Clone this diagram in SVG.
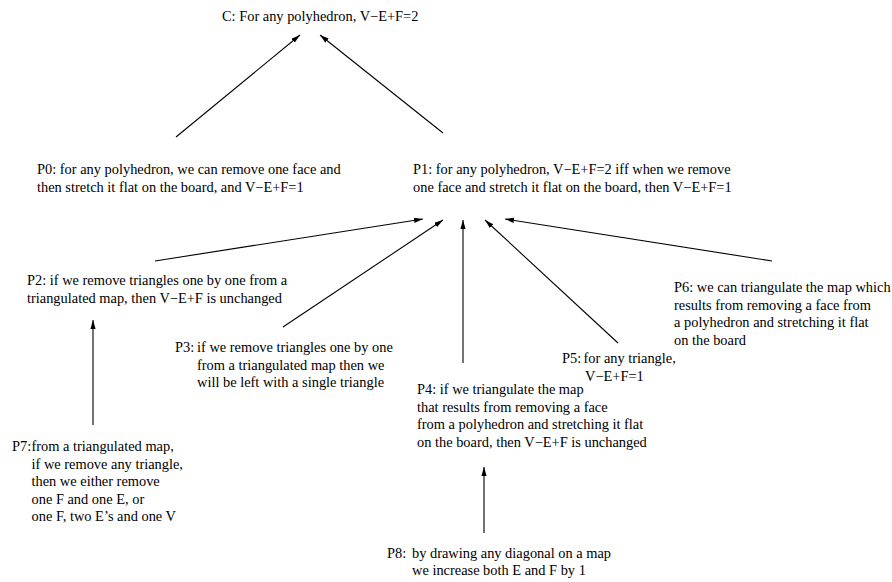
<svg xmlns="http://www.w3.org/2000/svg" width="892" height="582" viewBox="0 0 892 582">
<defs>
<marker id="ah" markerUnits="userSpaceOnUse" markerWidth="10" markerHeight="6" refX="9" refY="2.6" orient="auto">
<path d="M0,0 L9,2.6 L0,5.2 z" fill="#000"/>
</marker>
<style>
text{font-family:"Liberation Serif","Times New Roman",serif;font-size:14.4px;fill:#000}
.c line{stroke:#000;stroke-width:1.1;marker-end:url(#ah)}
</style>
</defs>
<rect width="892" height="582" fill="#fff"/>
<g id="connectors" class="c">
<line x1="176" y1="137" x2="300" y2="35"/>
<line x1="443" y1="133" x2="320" y2="35"/>
<line x1="155" y1="261" x2="423" y2="219"/>
<line x1="283" y1="327" x2="443" y2="220"/>
<line x1="463" y1="363" x2="463" y2="220"/>
<line x1="618" y1="343" x2="485" y2="220"/>
<line x1="772" y1="261" x2="505" y2="219"/>
<line x1="93" y1="425" x2="93" y2="320"/>
<line x1="484" y1="533" x2="484" y2="467"/>
</g>
<g id="C"><text x="222" y="21">C: For any polyhedron, V−E+F=2</text></g>
<g id="P0"><text x="37" y="174">P0: for any polyhedron, we can remove one face and</text><text x="37" y="191.5">then stretch it flat on the board, and V−E+F=1</text></g>
<g id="P1"><text x="413" y="174">P1: for any polyhedron, V−E+F=2 iff when we remove</text><text x="413" y="191.5">one face and stretch it flat on the board, then V−E+F=1</text></g>
<g id="P2"><text x="27" y="285">P2: if we remove triangles one by one from a</text><text x="27" y="302.5">triangulated map, then V−E+F is unchanged</text></g>
<g id="P3"><text x="175" y="352">P3:</text><text x="197" y="352">if we remove triangles one by one</text><text x="197" y="369.5">from a triangulated map then we</text><text x="197" y="387">will be left with a single triangle</text></g>
<g id="P4"><text x="417" y="394">P4: if we triangulate the map</text><text x="417" y="411.5">that results from removing a face</text><text x="417" y="429">from a polyhedron and stretching it flat</text><text x="417" y="446.5">on the board, then V−E+F is unchanged</text></g>
<g id="P5"><text x="562" y="363">P5:</text><text x="583.5" y="363">for any triangle,</text><text x="585" y="380.5">V−E+F=1</text></g>
<g id="P6"><text x="674" y="292">P6: we can triangulate the map which</text><text x="674" y="309.5">results from removing a face from</text><text x="674" y="327">a polyhedron and stretching it flat</text><text x="674" y="344.5">on the board</text></g>
<g id="P7"><text x="12" y="451">P7:</text><text x="31.5" y="451">from a triangulated map,</text><text x="31.5" y="468.5">if we remove any triangle,</text><text x="31.5" y="486">then we either remove</text><text x="31.5" y="503.5">one F and one E, or</text><text x="31.5" y="521">one F, two E’s and one V</text></g>
<g id="P8"><text x="387" y="557.5">P8:</text><text x="412" y="557.5">by drawing any diagonal on a map</text><text x="412" y="575">we increase both E and F by 1</text></g>
</svg>
